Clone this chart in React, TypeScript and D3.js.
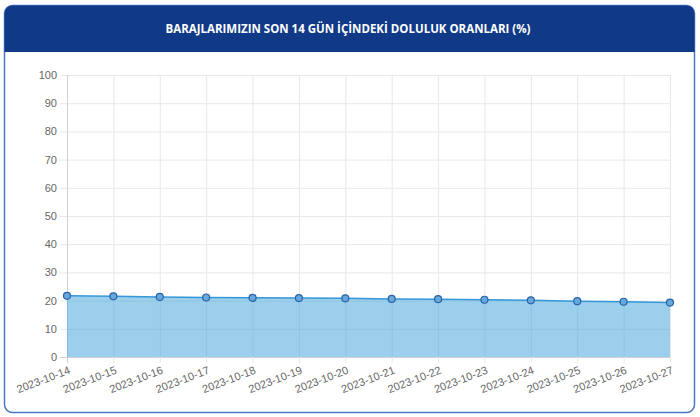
// @ts-nocheck
import React, { useEffect, useRef } from 'react';
import * as d3 from 'd3';

const dates = [
  '2023-10-14', '2023-10-15', '2023-10-16', '2023-10-17', '2023-10-18', '2023-10-19', '2023-10-20',
  '2023-10-21', '2023-10-22', '2023-10-23', '2023-10-24', '2023-10-25', '2023-10-26', '2023-10-27',
];
const doluluk = [21.7, 21.5, 21.3, 21.1, 21.0, 20.9, 20.8, 20.6, 20.5, 20.3, 20.1, 19.8, 19.6, 19.3];
const yTicks = [0, 10, 20, 30, 40, 50, 60, 70, 80, 90, 100];
const title = 'BARAJLARIMIZIN SON 14 GÜN İÇİNDEKİ DOLULUK ORANLARI (%)';

const App = () => {
  const svgRef = useRef(null);

  useEffect(() => {
    const width = 700;
    const height = 417;
    const left = 67, right = 670, top = 75, bottom = 357;

    const svg = d3.select(svgRef.current)
      .attr('width', width)
      .attr('height', height)
      .style('display', 'block')
      .style('font-family', '"Liberation Sans", Arial, sans-serif');
    svg.selectAll('*').remove();

    // card
    svg.append('rect')
      .attr('x', 4.5).attr('y', 5.5).attr('width', 690).attr('height', 407)
      .attr('rx', 8).attr('fill', '#fff').attr('stroke', '#4a78c2').attr('stroke-width', 1.5);

    const clipId = 'hdr-clip';
    svg.append('clipPath').attr('id', clipId)
      .append('rect').attr('x', 4.5).attr('y', 5.5).attr('width', 690).attr('height', 407).attr('rx', 8);
    svg.append('rect')
      .attr('x', 4).attr('y', 5).attr('width', 691).attr('height', 47)
      .attr('fill', '#103a88').attr('clip-path', `url(#${clipId})`);
    svg.append('text')
      .attr('x', 348).attr('y', 33)
      .attr('text-anchor', 'middle')
      .attr('fill', '#fff')
      .attr('font-family', '"Open Sans", sans-serif')
      .attr('font-weight', 700)
      .attr('font-size', 11.5)
      .text(title);

    const x = d3.scalePoint().domain(dates).range([left, right]);
    const y = d3.scaleLinear().domain([0, 100]).range([bottom, top]);

    // grid
    const grid = svg.append('g');
    grid.selectAll('line.h').data(yTicks).join('line')
      .attr('x1', left - 7).attr('x2', right)
      .attr('y1', d => y(d) + 0.5).attr('y2', d => y(d) + 0.5)
      .attr('stroke', d => d === 0 ? '#d0d0d0' : '#e8e8e8');
    grid.selectAll('line.v').data(dates).join('line')
      .attr('x1', d => x(d) + 0.5).attr('x2', d => x(d) + 0.5)
      .attr('y1', top).attr('y2', bottom + 6)
      .attr('stroke', (d, i) => i === 0 ? '#d0d0d0' : '#e8e8e8');

    // y labels
    svg.append('g').selectAll('text').data(yTicks).join('text')
      .attr('x', left - 10).attr('y', d => y(d) + 4)
      .attr('text-anchor', 'end').attr('font-size', 11).attr('fill', '#666')
      .text(d => d);

    // x labels
    svg.append('g').selectAll('text').data(dates).join('text')
      .attr('transform', d => `translate(${x(d) + 2},${bottom + 11}) rotate(-21)`)
      .attr('text-anchor', 'end').attr('font-size', 11).attr('fill', '#666')
      .attr('dy', '0.5em')
      .text(d => d);

    const pts = dates.map((d, i) => [x(d), y(doluluk[i])]);

    svg.append('path')
      .datum(pts)
      .attr('fill', 'rgba(58,160,215,0.5)')
      .attr('d', d3.area().x(d => d[0]).y0(bottom).y1(d => d[1]));

    svg.append('path')
      .datum(pts)
      .attr('fill', 'none').attr('stroke', '#3597d8').attr('stroke-width', 1.5)
      .attr('d', d3.line());

    svg.append('g').selectAll('circle').data(pts).join('circle')
      .attr('cx', d => d[0]).attr('cy', d => d[1]).attr('r', 3.5)
      .attr('fill', '#66a8dc').attr('stroke', '#2a62a8').attr('stroke-width', 1.2);
  }, []);

  return <svg ref={svgRef} style={{ position: 'absolute', left: 0, top: 0 }}></svg>;
};

export default App;
